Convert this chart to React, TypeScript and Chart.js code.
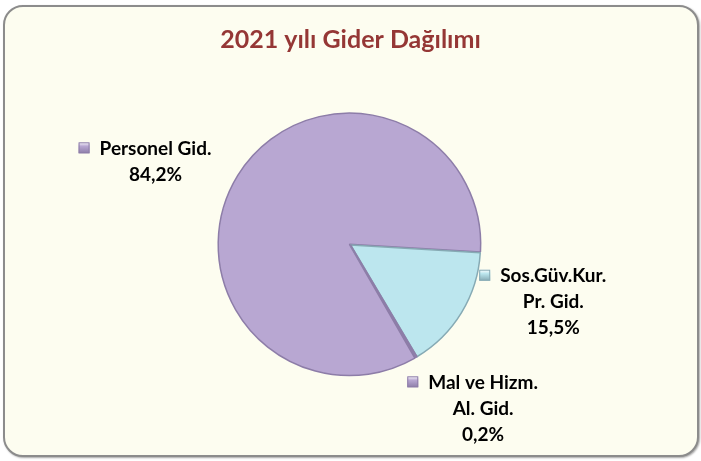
import React, { useEffect, useRef } from "react";
import { Chart, registerables } from "chart.js";

Chart.register(...registerables);

const titleText = "2021 yılı Gider Dağılımı";
const categories = ["Personel Gid.", "Sos.Güv.Kur. Pr. Gid.", "Mal ve Hizm. Al. Gid."];
const categoryLines = [["Personel Gid."], ["Sos.Güv.Kur.", "Pr. Gid."], ["Mal ve Hizm.", "Al. Gid."]];
const values = [84.2, 15.5, 0.2];

const sliceColors = ["#B8A7D2", "#BCE6EE", "#B8A7D2"];
const sliceBorders = ["#8D7DA8", "#86AAB4", "#8D7DA8"];
// label block centre, in multiples of the pie radius from the pie centre
const labelAnchors = [
  [-1.5, -0.64],
  [1.56, 0.44],
  [1.02, 1.26],
];

const FONT = "Lato, 'Open Sans', sans-serif";

const labelPlugin = {
  id: "sliceLabels",
  afterDatasetsDraw(chart: any) {
    const ctx = chart.ctx as CanvasRenderingContext2D;
    const meta = chart.getDatasetMeta(0);
    const ca = chart.chartArea;
    const cx = (ca.left + ca.right) / 2;
    const cy = (ca.top + ca.bottom) / 2;
    const r = (meta.data[1] as any).outerRadius;
    const lineH = 26;
    ctx.save();
    ctx.font = `bold 19px ${FONT}`;
    ctx.textAlign = "center";
    ctx.textBaseline = "middle";
    ctx.fillStyle = "#000";
    categoryLines.forEach((lines, i) => {
      const all = [...lines, values[i].toFixed(1).replace(".", ",") + "%"];
      const bx = cx + labelAnchors[i][0] * r;
      const by = cy + labelAnchors[i][1] * r;
      const y0 = by - ((all.length - 1) * lineH) / 2;
      all.forEach((t, k) => {
        ctx.fillText(t, bx, y0 + k * lineH);
      });
      // legend key
      const w0 = ctx.measureText(all[0]).width;
      const s = 11;
      const kx = bx - w0 / 2 - 10 - s;
      const ky = y0 - s / 2 - 1;
      const g = ctx.createLinearGradient(kx, ky, kx, ky + s);
      g.addColorStop(0, "#ffffff");
      g.addColorStop(0.35, sliceColors[i]);
      g.addColorStop(1, sliceBorders[i]);
      ctx.fillStyle = g;
      ctx.fillRect(kx, ky, s, s);
      ctx.strokeStyle = sliceBorders[i];
      ctx.lineWidth = 1;
      ctx.strokeRect(kx + 0.5, ky + 0.5, s - 1, s - 1);
      ctx.fillStyle = "#000";
    });
    ctx.restore();
  },
};

export default function App() {
  const ref = useRef<HTMLCanvasElement>(null);
  useEffect(() => {
    const chart = new Chart(ref.current as HTMLCanvasElement, {
      type: "pie",
      data: {
        labels: categories,
        datasets: [
          {
            data: values,
            backgroundColor: sliceColors,
            borderColor: sliceBorders,
            borderWidth: 1.5,
            offset: [5, 0, 0],
            radius: 130,
          } as any,
        ],
      },
      options: {
        responsive: false,
        animation: false,
        rotation: 150,
        layout: { padding: { top: 0, bottom: 34, left: 0, right: 0 } },
        plugins: {
          legend: { display: false },
          tooltip: { enabled: false },
          title: {
            display: true,
            text: titleText,
            color: "#953735",
            font: { family: FONT, size: 25, weight: "bold" },
            padding: { top: 25, bottom: 8 },
          },
        },
      },
      plugins: [labelPlugin],
    });
    return () => chart.destroy();
  }, []);
  return (
    <div style={{ position: "fixed", left: 0, top: 0, width: 701, height: 461, background: "#fff" }}>
      <div
        style={{
          position: "absolute",
          left: 3,
          top: 5,
          width: 692,
          height: 448,
          border: "2px solid #8c8c8c",
          borderRadius: 20,
          background: "#FDFDF0",
          boxShadow: "1px 1px 2px rgba(0,0,0,0.35)",
        }}
      />
      <canvas ref={ref} width={701} height={461} style={{ position: "absolute", left: 0, top: 0 }} />
    </div>
  );
}
